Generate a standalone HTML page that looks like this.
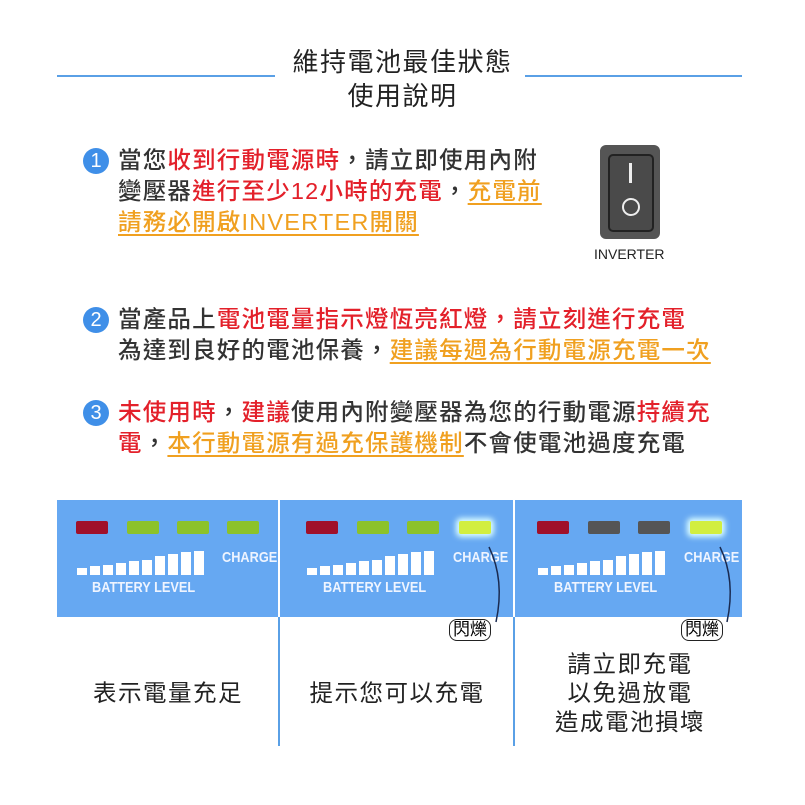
<!DOCTYPE html>
<html><head><meta charset="utf-8"><style>
body{margin:0;width:805px;height:805px;background:#fff;position:relative;overflow:hidden;font-family:"Liberation Sans","Noto Sans CJK TC",sans-serif;}
.a{position:absolute;white-space:nowrap;}
.t{font-size:23.5px;color:#333;line-height:31px;letter-spacing:1.2px;font-weight:500;}
.r{color:#e3202a;}
.o{color:#f0a020;text-decoration:underline;text-decoration-thickness:2px;text-underline-offset:4px;}
.num{position:absolute;width:26px;height:26px;border-radius:50%;background:#3f8fe8;color:#fff;font-size:20px;line-height:26px;text-align:center;}
.led{position:absolute;width:32px;height:13px;border-radius:2px;top:521px;}
.cap{position:absolute;font-size:14px;color:#eef4ff;font-weight:bold;transform:scaleX(0.85);transform-origin:left;}
.bt{position:absolute;font-size:23.5px;color:#222;text-align:center;line-height:29px;letter-spacing:1.5px;}
.fl{position:absolute;border:1.5px solid #222;border-radius:8px;font-size:17px;padding:0 3px;line-height:20px;background:#fff;}
</style></head><body>
<div class="a" style="left:57px;top:75px;width:218px;height:2px;background:#5aa0e6"></div>
<div class="a" style="left:525px;top:75px;width:217px;height:2px;background:#5aa0e6"></div>
<div class="a" style="left:0;width:805px;top:45px;text-align:center;font-size:26px;letter-spacing:1.5px;color:#222;line-height:34px">維持電池最佳狀態<br>使用說明</div>

<div class="num" style="left:83px;top:148px">1</div>
<div class="a t" style="left:118px;top:145px">當您<span class="r">收到行動電源時</span>，請立即使用內附<br>變壓器<span class="r">進行至少12小時的充電</span>，<span class="o">充電前</span><br><span class="o">請務必開啟INVERTER開關</span></div>

<div class="a" style="left:600px;top:145px;width:60px;height:94px;background:#555;border-radius:6px"></div>
<div class="a" style="left:608px;top:154px;width:42px;height:74px;border:2px solid #222;border-radius:5px;background:#4a4a4a"></div>
<div class="a" style="left:629px;top:163px;width:3px;height:20px;background:#eee"></div>
<div class="a" style="left:622px;top:198px;width:14px;height:14px;border:2px solid #eee;border-radius:50%"></div>
<div class="a" style="left:594px;top:246px;font-size:14px;color:#222">INVERTER</div>

<div class="num" style="left:83px;top:307px">2</div>
<div class="a t" style="left:118px;top:304px">當產品上<span class="r">電池電量指示燈恆亮紅燈，請立刻進行充電</span><br>為達到良好的電池保養，<span class="o">建議每週為行動電源充電一次</span></div>

<div class="num" style="left:83px;top:400px">3</div>
<div class="a t" style="left:118px;top:397px"><span class="r">未使用時</span>，<span class="r">建議</span>使用內附變壓器為您的行動電源<span class="r">持續充</span><br><span class="r">電</span>，<span class="o">本行動電源有過充保護機制</span>不會使電池過度充電</div>

<div class="a" style="left:57px;top:500px;width:685px;height:117px;background:#66a8f2"></div>
<div class="a" style="left:278px;top:500px;width:2px;height:246px;background:#5aa0e6"></div>
<div class="a" style="left:278px;top:500px;width:2px;height:117px;background:#fff"></div>
<div class="a" style="left:513px;top:500px;width:2px;height:246px;background:#5aa0e6"></div>
<div class="a" style="left:513px;top:500px;width:2px;height:117px;background:#fff"></div>

<div class="led" style="left:76px;background:#a0102a"></div>
<div class="led" style="left:127px;background:#8cc22a"></div>
<div class="led" style="left:177px;background:#8cc22a"></div>
<div class="led" style="left:227px;background:#8cc22a"></div>
<div class="led" style="left:306px;background:#a0102a"></div>
<div class="led" style="left:357px;background:#8cc22a"></div>
<div class="led" style="left:407px;background:#8cc22a"></div>
<div class="led" style="left:459px;background:#d2ee40;box-shadow:0 0 6px 3px #dff"></div>
<div class="led" style="left:537px;background:#a0102a"></div>
<div class="led" style="left:588px;background:#555"></div>
<div class="led" style="left:638px;background:#555"></div>
<div class="led" style="left:690px;background:#d2ee40;box-shadow:0 0 6px 3px #dff"></div>

<div id="bars"></div>
<script>
var h='';[77,307,538].forEach(function(x0){for(var i=0;i<10;i++){var hh=7+i*1.7;if(i>5)hh+=2;h+='<div class="a" style="background:#fff;left:'+(x0+i*13)+'px;top:'+(575-hh)+'px;width:10px;height:'+hh+'px"></div>';}});
document.getElementById('bars').innerHTML=h;
</script>
<div class="cap" style="left:222px;top:549px;font-size:15px">CHARGE</div>
<div class="cap" style="left:453px;top:549px;font-size:15px">CHARGE</div>
<div class="cap" style="left:684px;top:549px;font-size:15px">CHARGE</div>
<div class="cap" style="left:92px;top:579px;font-size:15px">BATTERY LEVEL</div>
<div class="cap" style="left:323px;top:579px;font-size:15px">BATTERY LEVEL</div>
<div class="cap" style="left:554px;top:579px;font-size:15px">BATTERY LEVEL</div>

<svg class="a" style="left:0;top:0" width="805" height="805">
<path d="M496 622 Q505 580 489 547" fill="none" stroke="#1a2a50" stroke-width="1.5"/>
<path d="M727 622 Q736 580 720 547" fill="none" stroke="#1a2a50" stroke-width="1.5"/>
</svg>
<div class="fl" style="left:449px;top:619px">閃爍</div>
<div class="fl" style="left:681px;top:619px">閃爍</div>

<div class="bt" style="left:57px;width:222px;top:679px">表示電量充足</div>
<div class="bt" style="left:280px;width:234px;top:679px">提示您可以充電</div>
<div class="bt" style="left:515px;width:230px;top:650px">請立即充電<br>以免過放電<br>造成電池損壞</div>
</body></html>
